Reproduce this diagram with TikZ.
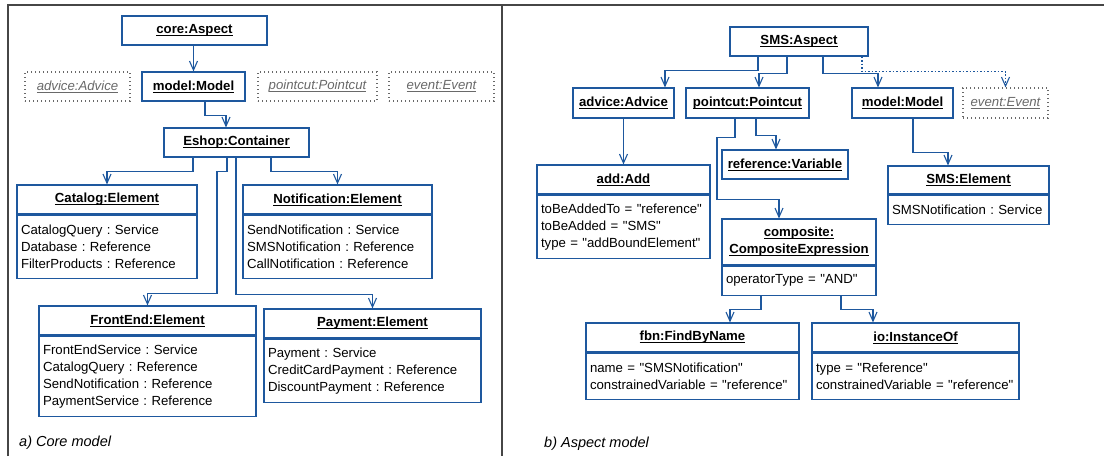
\documentclass[tikz,border=0pt]{standalone}
\usepackage{fontspec}
\setmainfont{Liberation Sans}[Ligatures=TeXOff]
\usetikzlibrary{arrows.meta,positioning}
\definecolor{umlblue}{RGB}{30,88,158}
\definecolor{framegray}{RGB}{70,70,70}
\definecolor{ghostgray}{RGB}{105,105,105}
\newcommand{\fs}{\fontsize{13.2}{17}\selectfont\frenchspacing\hyphenpenalty=10000\relax}
\newcommand{\ulname}[1]{\setbox0\hbox{#1}\rlap{\rule[-2.4pt]{\wd0}{0.9pt}}\box0}

\tikzset{
  obj/.style={draw=umlblue, line width=1.2pt, fill=white, font=\bfseries\fs,
    minimum height=29pt, inner sep=0pt},
  ghost/.style={draw=ghostgray, line width=1.1pt, dash pattern=on 1.4pt off 2.6pt,
    text=ghostgray, font=\itshape\fs, minimum height=29pt, inner sep=0pt},
  attrs/.style={draw=umlblue, line width=1.2pt, fill=white, font=\fs, align=left,
    inner xsep=4pt, inner ysep=3pt},
  link/.style={draw=umlblue, line width=1.1pt, -{Straight Barb[length=9pt,width=8pt]}},
  frame/.style={draw=framegray, line width=1.8pt},
  caption/.style={font=\itshape\fontsize{14.5}{17}\selectfont, anchor=west, inner sep=0pt}
}

\begin{document}
\begin{tikzpicture}[x=1pt,y=-1pt]
\useasboundingbox (0,0) rectangle (1104,456);
% frame
\draw[frame] (8,456) -- (8,5) -- (1104,5);
\draw[frame] (502,5) -- (502,456);

% a) core model
\node[obj, minimum width=145pt] (core) at (194.5,30.5) {\ulname{core:Aspect}};
\node[ghost, minimum width=105pt] (advice) at (77.5,86.5) {\ulname{advice:Advice}};
\node[obj, minimum width=103pt] (model) at (193.5,86.5) {\ulname{model:Model}};
\node[ghost, minimum width=119pt] (pointcut) at (317.5,86.5) {\ulname{pointcut:Pointcut}};
\node[ghost, minimum width=105pt] (event) at (441.5,86.5) {\ulname{event:Event}};
\node[obj, minimum width=145pt] (eshop) at (236.5,142.5) {\ulname{Eshop:Container}};

\node[obj, minimum width=180pt] (catalog) at (107,199.5) {\ulname{Catalog:Element}};
\node[attrs, text width=172pt, minimum height=63pt, below=0pt of catalog] (catalogA)
  {CatalogQuery : Service\\Database : Reference\\FilterProducts : Reference};
\node[obj, minimum width=189pt] (notification) at (337.5,199.5) {\ulname{Notification:Element}};
\node[attrs, text width=181pt, minimum height=63pt, below=0pt of notification] (notificationA)
  {SendNotification : Service\\SMSNotification : Reference\\CallNotification : Reference};
\node[obj, minimum width=217pt] (frontend) at (147.5,320.5) {\ulname{FrontEnd:Element}};
\node[attrs, text width=209pt, minimum height=80pt, below=0pt of frontend] (frontendA)
  {FrontEndService : Service\\CatalogQuery : Reference\\SendNotification : Reference\\PaymentService : Reference};
\node[obj, minimum width=217pt] (payment) at (372.5,323.5) {\ulname{Payment:Element}};
\node[attrs, text width=209pt, minimum height=63pt, below=0pt of payment] (paymentA)
  {Payment : Service\\CreditCardPayment : Reference\\DiscountPayment : Reference};

\draw[link] (core.south -| model.north) -- (model.north);
\draw[link] ([xshift=11.5pt]model.south) -- ++(0,14) -| ([xshift=-10.5pt]eshop.north);
\draw[link] ([xshift=-43.5pt]eshop.south) -- ++(0,14) -| (catalog.north);
\draw[link] ([xshift=-9.5pt]eshop.south) -- ++(0,14) -- ++(-10,0) -- ++(0,122) -| (frontend.north);
\draw[link] ([xshift=-0.5pt]eshop.south) -- ++(0,137) -| (payment.north);
\draw[link] ([xshift=34.5pt]eshop.south) -- ++(0,14) -| (notification.north);

\node[caption] (capA) at (19,443) {a) Core model};

% b) aspect model
\node[obj, minimum width=138pt] (sms) at (799,41.5) {\ulname{SMS:Aspect}};
\node[obj, minimum width=101pt, minimum height=30pt] (smsAdvice) at (623.5,103) {\ulname{advice:Advice}};
\node[obj, minimum width=123pt, minimum height=30pt] (smsPointcut) at (747.5,103) {\ulname{pointcut:Pointcut}};
\node[obj, minimum width=101pt, minimum height=30pt] (smsModel) at (902.5,103) {\ulname{model:Model}};
\node[ghost, minimum width=85pt, minimum height=30pt] (smsEvent) at (1005.5,103) {\ulname{event:Event}};

\node[obj, minimum width=173pt] (add) at (623.5,179.5) {\ulname{add:Add}};
\node[attrs, text width=165pt, minimum height=63pt, below=0pt of add] (addA)
  {toBeAddedTo = "reference"\\toBeAdded = "SMS"\\type = "addBoundElement"};
\node[obj, minimum width=126pt] (reference) at (785,164.5) {\ulname{reference:Variable}};
\node[obj, minimum width=154pt, minimum height=46pt, align=center] (composite) at (799,242)
  {\ulname{composite:}\\\ulname{CompositeExpression}};
\node[attrs, text width=146pt, minimum height=29pt, below=0pt of composite] (compositeA)
  {operatorType = "AND"};
\node[obj, minimum width=213pt] (fbn) at (692.5,337.5) {\ulname{fbn:FindByName}};
\node[attrs, text width=205pt, minimum height=46pt, below=0pt of fbn] (fbnA)
  {name = "SMSNotification"\\constrainedVariable = "reference"};
\node[obj, minimum width=207pt] (io) at (915.5,337.5) {\ulname{io:InstanceOf}};
\node[attrs, text width=199pt, minimum height=46pt, below=0pt of io] (ioA)
  {type = "Reference"\\constrainedVariable = "reference"};
\node[obj, minimum width=161pt, minimum height=28pt] (smsElement) at (968.5,180) {\ulname{SMS:Element}};
\node[attrs, text width=153pt, minimum height=29pt, below=0pt of smsElement] (smsElementA)
  {SMSNotification : Service};

\draw[link] ([xshift=-41pt]sms.south) -- ++(0,14) -| ([xshift=41.5pt]smsAdvice.north);
\draw[link] ([xshift=-12pt]sms.south) -- ++(0,17) -| ([xshift=11.5pt]smsPointcut.north);
\draw[link] ([xshift=24pt]sms.south) -- ++(0,17) -| ([xshift=-24.5pt]smsModel.north);
\draw[link, dash pattern=on 1.5pt off 2pt] ([xshift=63pt]sms.south) -- ++(0,15) -| (smsEvent.north);
\draw[link] (smsAdvice.south) -- (add.north);
\draw[link] ([xshift=8.5pt]smsPointcut.south) -- ++(0,17) -| ([xshift=-9pt]reference.north);
\draw[link] ([xshift=-12.5pt]smsPointcut.south) -- ++(0,19) -- ++(-18,0) -- ++(0,62) -| ([xshift=-20pt]composite.north);
\draw[link] ([xshift=-38pt]compositeA.south) -- ++(0,14) -| ([xshift=37.5pt]fbn.north);
\draw[link] ([xshift=42pt]compositeA.south) -- ++(0,14) -| ([xshift=-42.5pt]io.north);
\draw[link] ([xshift=10.5pt]smsModel.south) -- ++(0,34) -| ([xshift=-20.5pt]smsElement.north);

\node[caption] (capB) at (544,444) {b) Aspect model};
\end{tikzpicture}
\end{document}
